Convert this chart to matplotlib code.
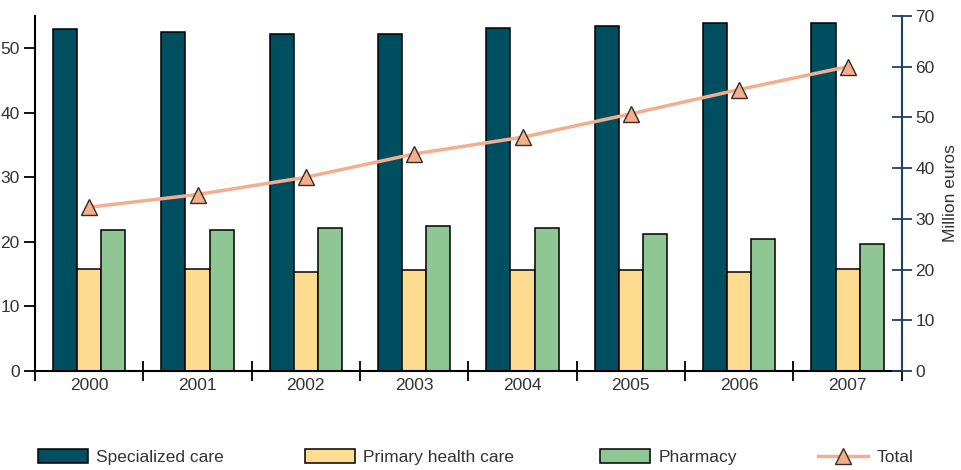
import matplotlib
matplotlib.use("Agg")
import matplotlib.pyplot as plt
import numpy as np
from matplotlib.patches import Patch
from matplotlib.lines import Line2D

plt.rcParams['font.family'] = ['Liberation Sans', 'DejaVu Sans']

years = ["2000", "2001", "2002", "2003", "2004", "2005", "2006", "2007"]
specialized = [53.0, 52.5, 52.2, 52.2, 53.1, 53.4, 53.9, 53.9]
primary = [15.8, 15.8, 15.3, 15.6, 15.6, 15.6, 15.3, 15.8]
pharmacy = [21.9, 21.9, 22.1, 22.4, 22.1, 21.3, 20.5, 19.7]
total = [32.3, 34.8, 38.2, 42.8, 46.1, 50.7, 55.5, 60.0]

c_spec = "#004F61"
c_prim = "#FDDB8F"
c_phar = "#8FC794"
c_tot = "#F3AE8E"
c_right = "#1E3F66"
c_text = "#333333"

fig = plt.figure(figsize=(9.61, 4.70), dpi=100)
ax = fig.add_axes([35/961, 1-371/470, (901.7-35)/961, (371-16)/470])
ax2 = ax.twinx()

x = np.arange(len(years))
w = 0.222
ax.bar(x - w, specialized, w, color=c_spec, edgecolor="black", linewidth=1.1, label="Specialized care")
ax.bar(x, primary, w, color=c_prim, edgecolor="black", linewidth=1.1, label="Primary health care")
ax.bar(x + w, pharmacy, w, color=c_phar, edgecolor="black", linewidth=1.1, label="Pharmacy")

ax2.plot(x, total, color=c_tot, linewidth=2.5, marker="^", markersize=11,
         markerfacecolor=c_tot, markeredgecolor="#3a2a20", markeredgewidth=1.0, label="Total")

ax.set_xlim(-0.5, 7.5)
ax.set_ylim(0, 55)
ax2.set_ylim(0, 70)

ax.set_yticks([0, 10, 20, 30, 40, 50])
ax2.set_yticks([0, 10, 20, 30, 40, 50, 60, 70])
ax.set_xticks(x)
ax.set_xticklabels(years)
ax.set_xticks(np.arange(-0.5, 8.0, 1.0), minor=True)
ax.tick_params(axis="x", which="major", length=0, pad=5, labelsize=12.5, labelcolor=c_text)
ax.tick_params(axis="x", which="minor", length=15, direction="inout", width=1.3, color="black")
ax.tick_params(axis="y", which="major", length=8, direction="out", width=1.3, labelsize=12.5, labelcolor=c_text, pad=3)
ax2.tick_params(axis="y", which="major", length=14, direction="inout", width=1.3, color=c_right,
                labelsize=12.5, labelcolor=c_text, pad=3)

for s in ["top", "right"]:
    ax.spines[s].set_visible(False)
ax.spines["left"].set_linewidth(1.5)
ax.spines["bottom"].set_linewidth(1.5)
for s in ["top", "left", "bottom"]:
    ax2.spines[s].set_visible(False)
ax2.spines["right"].set_color(c_right)
ax2.spines["right"].set_linewidth(1.5)

ax2.set_ylabel("Million euros", fontsize=12.5, color=c_text, labelpad=6)

handles = [
    Patch(facecolor=c_spec, edgecolor="black", linewidth=1.1, label="Specialized care"),
    Patch(facecolor=c_prim, edgecolor="black", linewidth=1.1, label="Primary health care"),
    Patch(facecolor=c_phar, edgecolor="black", linewidth=1.1, label="Pharmacy"),
    Line2D([0], [0], color=c_tot, linewidth=2.5, marker="^", markersize=11,
           markerfacecolor=c_tot, markeredgecolor="#3a2a20", markeredgewidth=1.0, label="Total"),
]
starts = [38, 305, 600, 818]
for h, sx in zip(handles, starts):
    leg = fig.legend(handles=[h], loc="center left", bbox_to_anchor=(sx/961, 1-457/470),
                     frameon=False, fontsize=12.5, handlelength=2.9, handleheight=0.85,
                     handletextpad=0.45, borderpad=0.0, borderaxespad=0.0, labelcolor=c_text)

fig.savefig("out.png", dpi=100)
